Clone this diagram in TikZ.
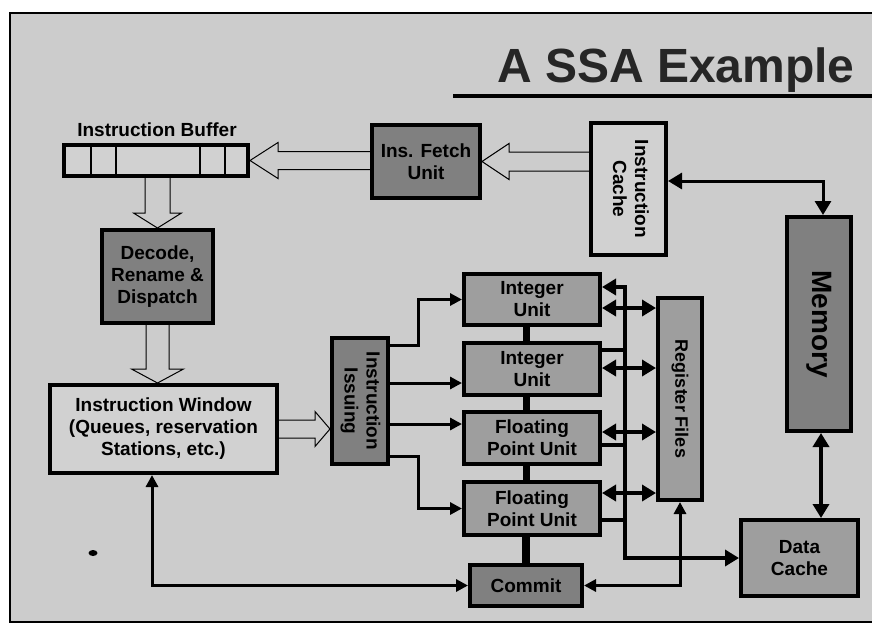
\documentclass[tikz,border=0pt]{standalone}
\usepackage{fontspec}
\setmainfont{Liberation Sans}
\usepackage{graphicx}
\usetikzlibrary{arrows.meta,calc}

\definecolor{bgc}{gray}{0.80}
\definecolor{lightc}{gray}{0.82}
\definecolor{midc}{gray}{0.62}
\definecolor{darkc}{gray}{0.50}

\newcommand{\vtext}[1]{\rotatebox{-90}{\begin{tabular}{@{}c@{}}#1\end{tabular}}}

\tikzset{
  box/.style={draw, line width=4pt, align=center, inner sep=0pt,
    font=\bfseries\fontsize{19}{22}\selectfont},
  lightbox/.style={box, fill=lightc},
  midbox/.style={box, fill=midc},
  darkbox/.style={box, fill=darkc},
  hollow/.style={draw, line width=1pt, line join=miter},
  conn/.style={line width=3pt},
  wide/.style={line width=4pt},
  >={Triangle[length=12pt,width=12pt]},
  bigtip/.style={>={Triangle[length=14pt,width=16pt]}},
}

\begin{document}
\begin{tikzpicture}[x=1pt,y=-1pt]
\useasboundingbox (0,0) rectangle (872,625);

% page background and frame
\fill[bgc] (10,13) rectangle (872,622);
\draw[line width=1.5pt] (880,13) -- (10,13) -- (10,622) -- (880,622);

% title
\node[anchor=base, font=\bfseries\fontsize{48}{48}\selectfont, text=black!85] (title) at (676,82) {A SSA Example};
\coordinate (ulL) at (453,96);
\coordinate (ulR) at (880,96);
\draw[line width=4pt] (ulL) -- (ulR);

% front end
\node[anchor=base, font=\bfseries\fontsize{19}{22}\selectfont] (buflabel) at (157,136) {Instruction Buffer};
\node[lightbox, minimum width=184, minimum height=31] (buf) at (156,160.5) {};
\foreach \x in {91,116,200,225}
  \draw[line width=1.2pt] (buf.south -| \x,0) -- (buf.north -| \x,0);

\node[darkbox, minimum width=108, minimum height=73] (ifu) at (426,161.5) {Ins. Fetch\\Unit};
\node[lightbox, minimum width=75, minimum height=132] (icache) at (628.5,189) {\vtext{Instruction\\Cache}};
\node[darkbox, minimum width=64, minimum height=214] (mem) at (819,324)
  {\fontsize{28}{30}\selectfont\rotatebox{-90}{Memory}};
\node[midbox, minimum width=117, minimum height=76] (dcache) at (799.5,558) {Data\\Cache};

\node[darkbox, minimum width=111, minimum height=93] (decode) at (157.5,276.5) {Decode,\\Rename \&\\Dispatch};
\node[lightbox, minimum width=227, minimum height=88] (window) at (163.5,429)
  {Instruction Window\\(Queues, reservation\\Stations, etc.)};
\node[darkbox, minimum width=56, minimum height=126] (issue) at (360,401) {\vtext{Instruction\\Issuing}};

% execution units
\node[midbox, minimum width=136, minimum height=51] (int1) at (532,299.5) {Integer\\Unit};
\node[midbox, minimum width=136, minimum height=52] (int2) at (532,369) {Integer\\Unit};
\node[midbox, minimum width=136, minimum height=52] (fpu1) at (532,438) {Floating\\Point Unit};
\node[midbox, minimum width=136, minimum height=53] (fpu2) at (532,508.5) {Floating\\Point Unit};
\node[darkbox, minimum width=112, minimum height=41] (commit) at (526,585.5) {Commit};
\node[midbox, minimum width=44, minimum height=202] (regf) at (680,399)
  {\fontsize{18}{20}\selectfont\rotatebox{-90}{Register Files}};

% hollow arrows: fetch -> buffer
\coordinate (h1) at (buf.east);
\draw[hollow] ($(h1 -| ifu.west)+(0,-9)$) -- ($(h1)+(28,-9)$) -- ($(h1)+(28,-18)$) -- (h1)
  -- ($(h1)+(28,18)$) -- ($(h1)+(28,9)$) -- ($(h1 -| ifu.west)+(0,9)$);
% cache -> fetch
\coordinate (h2) at (ifu.east);
\draw[hollow] ($(h2 -| icache.west)+(0,-9.5)$) -- ($(h2)+(27,-9.5)$) -- ($(h2)+(27,-18)$) -- (h2)
  -- ($(h2)+(27,18)$) -- ($(h2)+(27,9.5)$) -- ($(h2 -| icache.west)+(0,9.5)$);
% buffer -> decode
\coordinate (h3) at (decode.north);
\draw[hollow] ($(buf.south -| h3)+(-12.5,0)$) -- ($(h3)+(-12.5,-15)$) -- ($(h3)+(-24,-15)$) -- (h3)
  -- ($(h3)+(24,-15)$) -- ($(h3)+(12.5,-15)$) -- ($(buf.south -| h3)+(12.5,0)$);
% decode -> window
\coordinate (h4) at (window.north -| decode.south);
\draw[hollow] ($(decode.south)+(-11.5,0)$) -- ($(h4)+(-11.5,-14)$) -- ($(h4)+(-26,-14)$) -- (h4)
  -- ($(h4)+(26,-14)$) -- ($(h4)+(11.5,-14)$) -- ($(decode.south)+(11.5,0)$);
% window -> issue
\coordinate (h5) at (issue.west |- window.east);
\draw[hollow] ($(window.east |- h5)+(0,-9)$) -- ($(h5)+(-15,-9)$) -- ($(h5)+(-15,-17.5)$) -- (h5)
  -- ($(h5)+(-15,17.5)$) -- ($(h5)+(-15,9)$) -- ($(window.east |- h5)+(0,9)$);

% issue -> units
\draw[conn,->] ($(issue.north east)+(0,9)$) -- ++(28,0) |- (int1.west);
\draw[conn,->] (issue.east |- 0,383) -- (int2.west |- 0,383);
\draw[conn,->] (issue.east |- 0,424) -- (fpu1.west |- 0,424);
\draw[conn,->] ($(issue.south east)+(0,-10)$) -- ++(28,0) |- (fpu2.west);

% links between the units
\foreach \a/\b in {int1/int2, int2/fpu1, fpu1/fpu2}
  \draw[line width=7pt] (\a.south -| commit.north) -- (\b.north -| commit.north);
\draw[line width=8pt] (fpu2.south -| commit.north) -- (commit.north);

% result bus
\coordinate (bustop) at (625,287);
\coordinate (busbot) at (625,558);
\draw[wide,bigtip,<->] (int1.east |- bustop) -- (bustop) -- (busbot) -- (dcache.west |- busbot);
\draw[wide] (int2.east |- 0,350) -- (bustop |- 0,350);
\draw[wide] (fpu1.east |- 0,445) -- (bustop |- 0,445);
\draw[wide] (fpu2.east |- 0,520) -- (bustop |- 0,520);

% register file ports
\draw[wide,bigtip,<->] (int1.east |- 0,308) -- (regf.west |- 0,308);
\draw[wide,bigtip,<->] (int2.east |- 0,368) -- (regf.west |- 0,368);
\draw[wide,bigtip,<->] (fpu1.east |- 0,432) -- (regf.west |- 0,432);
\draw[wide,bigtip,<->] (fpu2.east |- 0,493) -- (regf.west |- 0,493);

% commit paths
\draw[conn,<->] (commit.east) -| (regf.south);
\draw[conn,<->] (window.south -| 152,0) |- (commit.west);

% memory paths
\draw[conn,bigtip,<->] (icache.east |- 0,181) -| ($(mem.north)+(4,0)$);
\draw[wide,bigtip,<->] ($(mem.south)+(2,0)$) -- ($(dcache.north -| mem.south)+(2,0)$);

% small ink spot
\fill[black] (93,553) ellipse (4.5 and 3);
\end{tikzpicture}
\end{document}
